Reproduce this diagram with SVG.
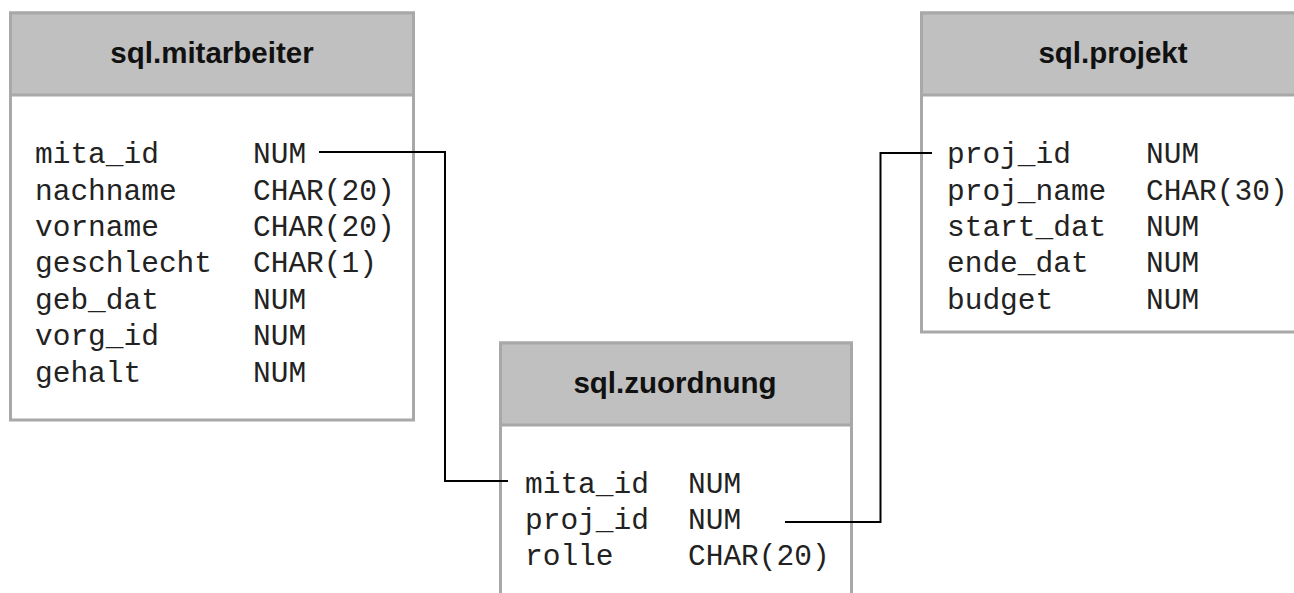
<svg xmlns="http://www.w3.org/2000/svg" width="1294" height="593" viewBox="0 0 1294 593">
<style>
.box{fill:#ffffff;stroke:#a8a8a8;stroke-width:3}
.head{fill:#c0c0c0;stroke:#a8a8a8;stroke-width:3}
.title{font-family:"Liberation Sans",Arial,sans-serif;font-weight:bold;font-size:29.5px;fill:#111;text-anchor:middle}
.f{font-family:"Liberation Mono","Courier New",monospace;font-size:29.5px;fill:#222}
.conn{fill:none;stroke:#000;stroke-width:2}
</style>
<rect width="1294" height="593" fill="#ffffff"/>
<g id="mitarbeiter">
<rect class="box" x="10.5" y="13" width="403" height="407"/>
<rect class="head" x="10.5" y="13" width="403" height="82"/>
<text class="title" x="212" y="63">sql.mitarbeiter</text>
<text class="f" x="35" y="163">mita_id</text><text class="f" x="253" y="163">NUM</text>
<text class="f" x="35" y="200">nachname</text><text class="f" x="253" y="200">CHAR(20)</text>
<text class="f" x="35" y="236">vorname</text><text class="f" x="253" y="236">CHAR(20)</text>
<text class="f" x="35" y="272">geschlecht</text><text class="f" x="253" y="272">CHAR(1)</text>
<text class="f" x="35" y="309">geb_dat</text><text class="f" x="253" y="309">NUM</text>
<text class="f" x="35" y="345">vorg_id</text><text class="f" x="253" y="345">NUM</text>
<text class="f" x="35" y="382">gehalt</text><text class="f" x="253" y="382">NUM</text>
</g>
<g id="zuordnung">
<rect class="box" x="500.5" y="343" width="351" height="290"/>
<rect class="head" x="500.5" y="343" width="351" height="82"/>
<text class="title" x="675" y="393">sql.zuordnung</text>
<text class="f" x="525" y="493">mita_id</text><text class="f" x="688" y="493">NUM</text>
<text class="f" x="525" y="529">proj_id</text><text class="f" x="688" y="529">NUM</text>
<text class="f" x="525" y="565">rolle</text><text class="f" x="688" y="565">CHAR(20)</text>
</g>
<g id="projekt">
<rect class="box" x="921.5" y="13" width="405" height="319"/>
<rect class="head" x="921.5" y="13" width="405" height="82"/>
<text class="title" x="1113" y="63">sql.projekt</text>
<text class="f" x="947" y="163">proj_id</text><text class="f" x="1146" y="163">NUM</text>
<text class="f" x="947" y="200">proj_name</text><text class="f" x="1146" y="200">CHAR(30)</text>
<text class="f" x="947" y="236">start_dat</text><text class="f" x="1146" y="236">NUM</text>
<text class="f" x="947" y="272">ende_dat</text><text class="f" x="1146" y="272">NUM</text>
<text class="f" x="947" y="309">budget</text><text class="f" x="1146" y="309">NUM</text>
</g>
<g id="connectors">
<polyline class="conn" points="319,152 445,152 445,481 508,481"/>
<polyline class="conn" points="785,522 880.5,522 880.5,153 932,153"/>
</g>
</svg>
